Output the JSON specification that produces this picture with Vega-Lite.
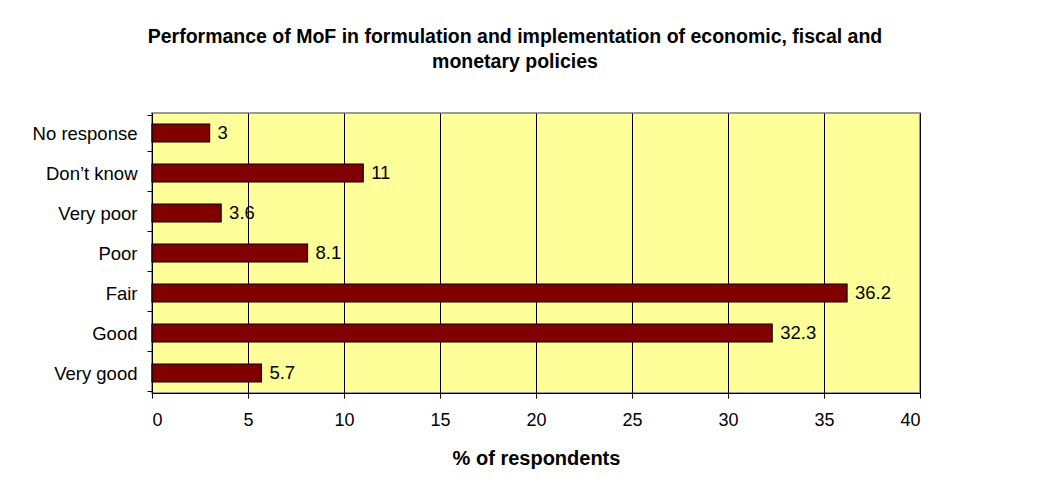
{
  "$schema": "https://vega.github.io/schema/vega-lite/v6.json",
  "width": 768,
  "height": 280,
  "autosize": {"type": "none"},
  "padding": {"left": 152, "top": 113, "right": 137, "bottom": 99},
  "background": "white",
  "title": {
    "text": ["Performance of MoF in formulation and implementation of economic, fiscal and", "monetary policies"],
    "font": "Liberation Sans",
    "fontSize": 19.5,
    "fontWeight": "bold",
    "color": "black",
    "anchor": "middle",
    "dx": -21,
    "lineHeight": 25,
    "offset": 32
  },
  "data": {
    "values": [
      {"response": "No response", "pct": 3},
      {"response": "Don’t know", "pct": 11},
      {"response": "Very poor", "pct": 3.6},
      {"response": "Poor", "pct": 8.1},
      {"response": "Fair", "pct": 36.2},
      {"response": "Good", "pct": 32.3},
      {"response": "Very good", "pct": 5.7}
    ]
  },
  "encoding": {
    "y": {
      "field": "response",
      "type": "nominal",
      "sort": null,
      "title": null,
      "axis": {
        "labelFont": "Liberation Sans",
        "labelFontSize": 18.5,
        "labelColor": "black",
        "labelPadding": 10,
        "tickSize": 5,
        "tickColor": "black",
        "tickBand": "extent",
        "domainColor": "black",
        "grid": false
      }
    },
    "x": {
      "field": "pct",
      "type": "quantitative",
      "scale": {"domain": [0, 40], "nice": false},
      "title": "% of respondents",
      "axis": {
        "values": [0, 5, 10, 15, 20, 25, 30, 35, 40],
        "labelFont": "Liberation Sans",
        "labelFontSize": 18,
        "labelColor": "black",
        "labelPadding": 13,
        "tickSize": 5,
        "tickColor": "black",
        "domainColor": "black",
        "grid": true,
        "gridColor": "black",
        "gridOpacity": 1,
        "gridWidth": 1,
        "titleFont": "Liberation Sans",
        "titleFontSize": 20,
        "titleFontWeight": "bold",
        "titleColor": "black",
        "titlePadding": 19
      }
    }
  },
  "layer": [
    {
      "mark": {"type": "bar", "size": 18, "fill": "#800000", "stroke": "black", "strokeWidth": 1.2}
    },
    {
      "mark": {"type": "text", "align": "left", "baseline": "middle", "dx": 8, "font": "Liberation Sans", "fontSize": 18.5, "color": "black"},
      "encoding": {"text": {"field": "pct", "type": "quantitative"}}
    }
  ],
  "config": {
    "view": {"fill": "#FFFF99", "stroke": "#999999", "strokeWidth": 2}
  }
}
